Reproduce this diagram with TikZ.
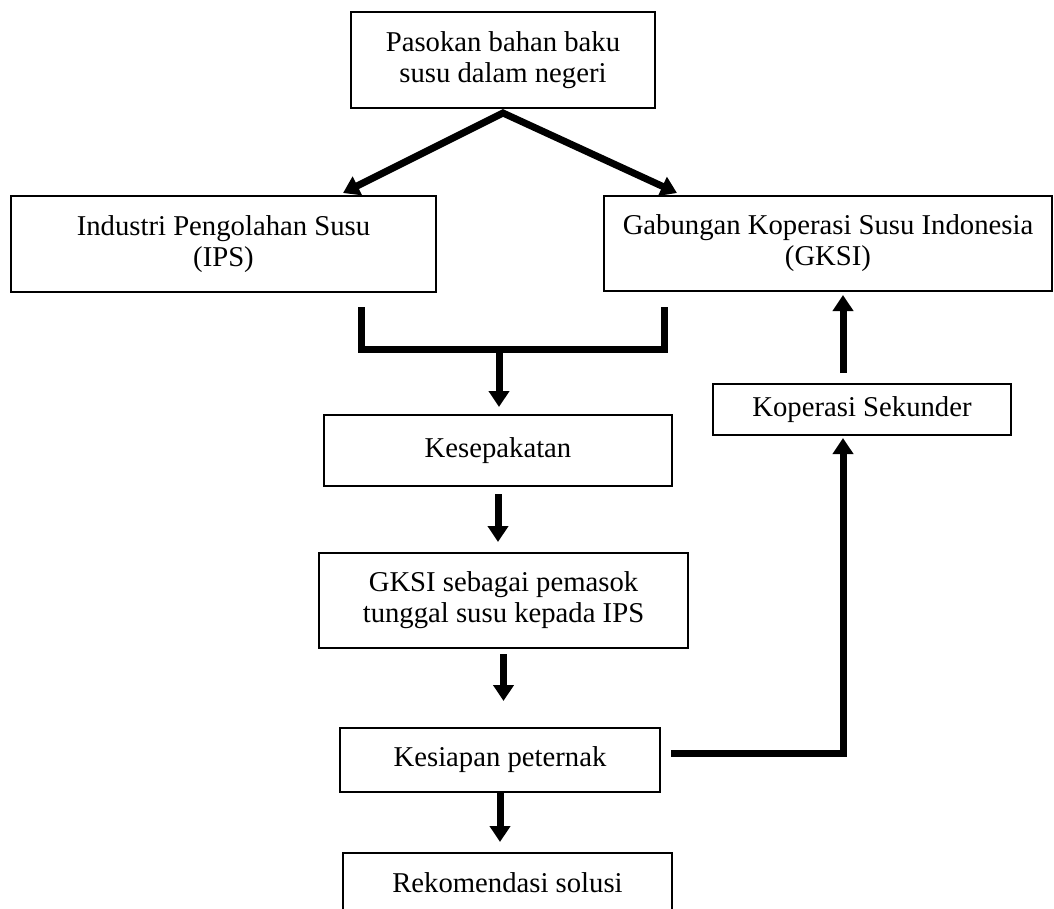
\documentclass[tikz,border=0pt]{standalone}
\usepackage{fontspec}
\setmainfont{Liberation Serif}
\usetikzlibrary{arrows.meta}

\tikzset{
  box/.style={draw, line width=2pt, align=center, inner sep=0pt,
    font=\fontsize{28.7}{31}\selectfont},
  flow/.style={line width=7pt, -{Triangle[length=16pt,width=20pt]}},
  fork/.style={line width=7pt, line join=miter,
    {Triangle[length=16pt,width=20pt]}-{Triangle[length=16pt,width=20pt]}},
  bar/.style={line width=7pt},
}

\begin{document}
\begin{tikzpicture}[x=1pt,y=-1pt]
\useasboundingbox (0,0) rectangle (1054,908);
% boxes
\node[box, minimum width=304pt, minimum height=96pt] (supply) at (503,60) {Pasokan bahan baku\\susu dalam negeri};
\node[box, minimum width=425pt, minimum height=96pt] (ips) at (223.5,244) {Industri Pengolahan Susu\\(IPS)};
\node[box, minimum width=448pt, minimum height=95pt] (gksi) at (828,243.5) {Gabungan Koperasi Susu Indonesia\\(GKSI)};
\node[box, minimum width=348pt, minimum height=71pt] (deal) at (498,450.5) {Kesepakatan};
\node[box, minimum width=369pt, minimum height=95pt] (sole) at (503.5,600.5) {GKSI sebagai pemasok\\tunggal susu kepada IPS};
\node[box, minimum width=320pt, minimum height=64pt] (ready) at (500,760) {Kesiapan peternak};
\node[box, minimum width=329pt, minimum height=60pt] (reco) at (507.5,883) {Rekomendasi solusi};
\node[box, minimum width=298pt, minimum height=51pt] (coop) at (862,409.5) {Koperasi Sekunder};
% supply splits into IPS and GKSI
\coordinate (split) at (503,113);
\draw[fork] ([xshift=119.5pt,yshift=2pt]ips.north) -- (split) -- ([xshift=-151pt,yshift=2pt]gksi.north);
% both join into the agreement
\coordinate (bl) at (361,307);
\coordinate (br) at (664,307);
\coordinate (bjoin) at (499,349);
\draw[bar] (bl) |- (br |- bjoin) -- (br);
\draw[flow, shorten >=7pt] (bjoin) -- (bjoin |- deal.north);
% main chain
\draw[flow, shorten <=7pt, shorten >=10pt] (deal.south) -- (deal.south |- sole.north);
\draw[flow, shorten <=5pt, shorten >=26pt] (sole.south) -- (sole.south |- ready.north);
\draw[flow, shorten >=10pt] (ready.south) -- (ready.south |- reco.north);
% back up through the secondary cooperative
\draw[flow, shorten <=10pt, shorten >=2pt] ([yshift=7pt]ready.east) -| ([xshift=-19pt]coop.south);
\draw[flow, shorten <=10pt, shorten >=3pt] ([xshift=-19pt]coop.north) -- ([xshift=-19pt]coop.north |- gksi.south);
\end{tikzpicture}
\end{document}
